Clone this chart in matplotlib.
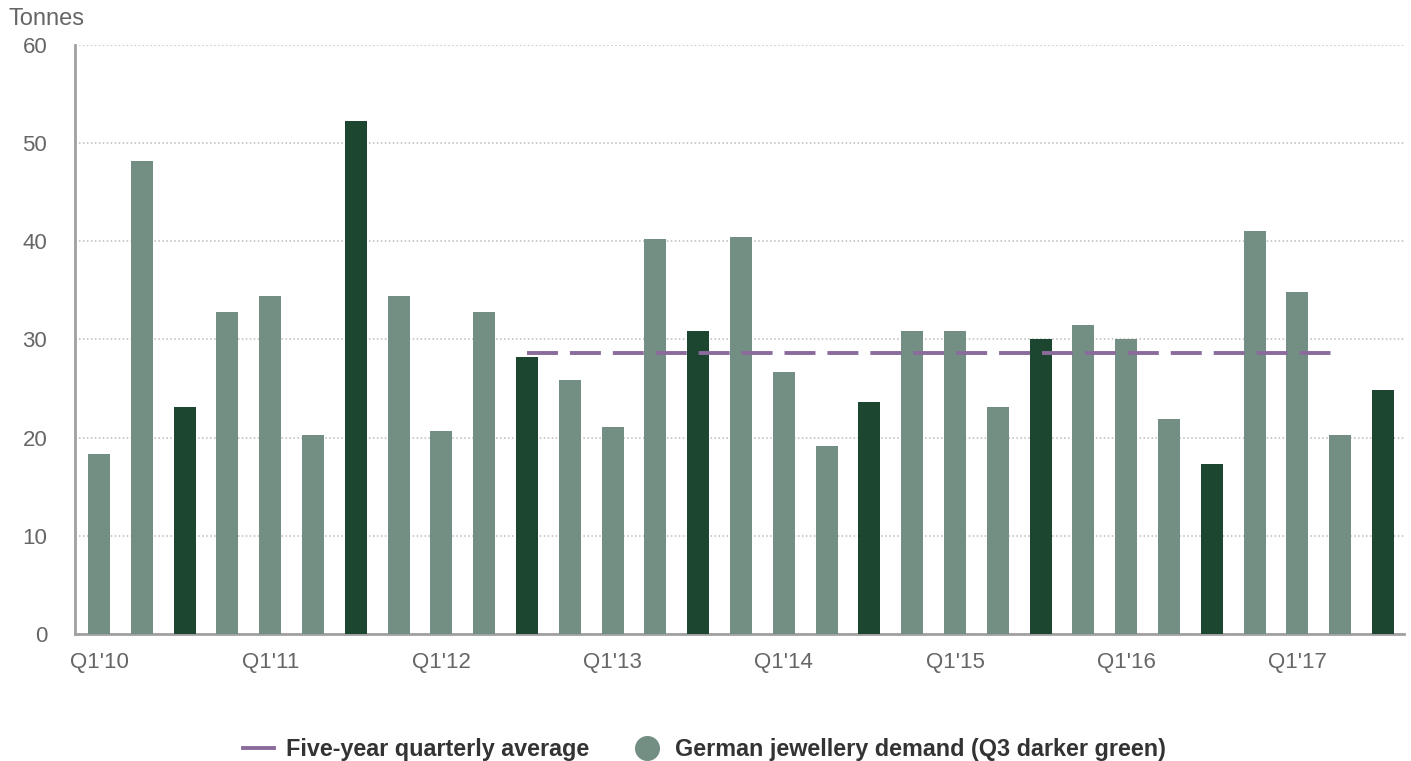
import matplotlib
matplotlib.use("Agg")
import matplotlib.pyplot as plt
from matplotlib.lines import Line2D

plt.rcParams['font.family'] = ['Liberation Sans', 'DejaVu Sans']

# Quarterly German jewellery demand, tonnes, Q1'10 .. Q3'17
quarters = [f"Q{q}'{y:02d}" for y in range(10, 18) for q in range(1, 5)][:31]
demand = [18.3, 48.2, 23.1, 32.8, 34.4, 20.3, 52.3, 34.4,
          20.7, 32.8, 28.2, 25.9, 21.1, 40.2, 30.9, 40.4,
          26.7, 19.2, 23.6, 30.9, 30.9, 23.1, 30.0, 31.5,
          30.0, 21.9, 17.3, 41.0, 34.8, 20.3, 24.85]
avg_value = 28.6
avg_start, avg_end = "Q3'12", "Q2'17"
yticks = [0, 10, 20, 30, 40, 50, 60]

light_green = "#738e82"
dark_green = "#1c4630"
purple = "#8a6b9c"
grey_text = "#666666"

fig = plt.figure(figsize=(14.11, 7.61), dpi=100)
ax = fig.add_axes([0.0532, 0.1669, 0.9418, 0.7740])

x = list(range(len(demand)))
colors = [dark_green if q.startswith("Q3") else light_green for q in quarters]
ax.bar(x, demand, width=0.514, color=colors, zorder=3)

# five-year average as a dashed reference line
i0, i1 = quarters.index(avg_start), quarters.index(avg_end)
avg_lw = 2.8
ax.plot([i0, i1], [avg_value, avg_value], color=purple, lw=avg_lw,
        dashes=(22.3 / avg_lw, 8.6 / avg_lw), solid_capstyle='butt',
        dash_capstyle='butt', zorder=4)

ax.set_xlim(-0.561, 30.49)
ax.set_ylim(0, 60)
ax.set_yticks(yticks)
ax.set_yticklabels([str(v) for v in yticks])
ax.yaxis.grid(True, linestyle=(0, (1, 1.6)), color="#bbbbbb", lw=1.1, zorder=0)
ax.set_xticks(x[::4])
ax.set_xticklabels(quarters[::4])
ax.tick_params(axis='both', length=0, labelsize=16, labelcolor=grey_text)
ax.tick_params(axis='y', pad=20)
ax.tick_params(axis='x', pad=13)

for side in ("top", "right"):
    ax.spines[side].set_visible(False)
for side in ("left", "bottom"):
    ax.spines[side].set_color("#a0a0a0")
    ax.spines[side].set_linewidth(2)
ax.spines["left"].set_zorder(5)

fig.text(0.006, 0.975, "Tonnes", fontsize=17, color=grey_text, va='center', ha='left')

handles = [Line2D([], [], color=purple, lw=avg_lw),
           Line2D([], [], marker='o', color=light_green, ls='none', markersize=17)]
fig.legend(handles, ["Five-year quarterly average", "German jewellery demand (Q3 darker green)"],
           loc='center', bbox_to_anchor=(0.4993, 0.0155), ncol=2, frameon=False,
           prop={'weight': 'bold', 'size': 16.8}, labelcolor="#333333",
           handlelength=1.34, handletextpad=0.52, columnspacing=1.8)

fig.savefig("out.png", dpi=100)
